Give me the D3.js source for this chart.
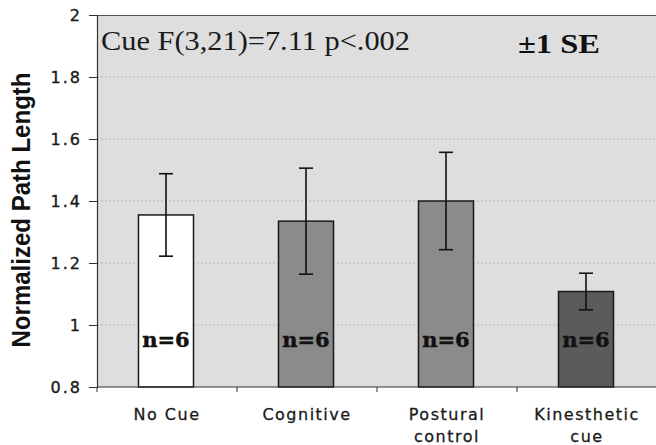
<!DOCTYPE html>
<html>
<head>
<meta charset="utf-8">
<script src="https://cdn.jsdelivr.net/npm/d3@7"></script>
<style>
  body { margin: 0; background: #fff; }
  svg { display: block; }
</style>
</head>
<body>
<svg id="chart" width="656" height="445"></svg>
<script>
// data
var categories = [["No Cue"], ["Cognitive"], ["Postural", "control"], ["Kinesthetic", "cue"]];
var means = [1.355, 1.335, 1.400, 1.108];
var se = [0.133, 0.171, 0.157, 0.059];
var nLabels = ["n=6", "n=6", "n=6", "n=6"];
var barFills = ["#ffffff", "#8b8b8b", "#8b8b8b", "#5b5b5b"];
var yTicks = [0.8, 1, 1.2, 1.4, 1.6, 1.8, 2];
var statText = "Cue F(3,21)=7.11 p<.002";
var seText = "\u00b11 SE";

var svg = d3.select("#chart");
// plot box (note: "top" is taken by window.top, so use pL/pT/...)
var pL = 97, pT = 15, pR = 657, pB = 387;

var x = d3.scaleBand()
    .domain(d3.range(categories.length))
    .range([pL, pR])
    .paddingInner(0).paddingOuter(0);

var y = d3.scaleLinear()
    .domain([0.8, 2])
    .range([pB, pT]);

var barW = 55;

// plot background
svg.append("rect")
    .attr("x", pL).attr("y", pT)
    .attr("width", pR - pL).attr("height", pB - pT)
    .attr("fill", "#dedede");

// dotted grid
svg.append("g").selectAll("line")
    .data(yTicks.filter(function(d) { return d > 0.8 && d < 2; }))
  .join("line")
    .attr("x1", pL).attr("x2", pR)
    .attr("y1", function(d) { return y(d); })
    .attr("y2", function(d) { return y(d); })
    .attr("stroke", "#b4b4b4")
    .attr("stroke-width", 1)
    .attr("stroke-dasharray", "2,2");

// top frame line
svg.append("line")
    .attr("x1", pL).attr("x2", pR)
    .attr("y1", pT + 0.5).attr("y2", pT + 0.5)
    .attr("stroke", "#555").attr("stroke-width", 1.2);

// bars
svg.append("g").selectAll("rect")
    .data(means)
  .join("rect")
    .attr("x", function(d, i) { return x(i) + x.bandwidth() / 2 - barW / 2 - 1; })
    .attr("y", function(d) { return y(d); })
    .attr("width", barW)
    .attr("height", function(d) { return y(0.8) - y(d); })
    .attr("fill", function(d, i) { return barFills[i]; })
    .attr("stroke", "#1a1a1a")
    .attr("stroke-width", 1.5);

// error bars
var eb = svg.append("g").attr("stroke", "#111").attr("stroke-width", 1.6);
means.forEach(function(m, i) {
    var cx = x(i) + x.bandwidth() / 2 - 1;
    var hi = y(m + se[i]), lo = y(m - se[i]);
    eb.append("line").attr("x1", cx).attr("x2", cx).attr("y1", hi).attr("y2", lo);
    eb.append("line").attr("x1", cx - 7).attr("x2", cx + 7).attr("y1", hi).attr("y2", hi);
    eb.append("line").attr("x1", cx - 7).attr("x2", cx + 7).attr("y1", lo).attr("y2", lo);
});

// n labels
svg.append("g").selectAll("text")
    .data(nLabels)
  .join("text")
    .attr("x", function(d, i) { return x(i) + x.bandwidth() / 2 - 1; })
    .attr("y", 347)
    .attr("text-anchor", "middle")
    .attr("font-family", "'DejaVu Serif', serif")
    .attr("font-weight", "bold")
    .attr("font-size", 21)
    .attr("fill", "#111")
    .attr("stroke", "#111").attr("stroke-width", 0.4)
    .text(function(d) { return d; });

// y axis
var yAxis = svg.append("g")
    .attr("transform", "translate(" + pL + ",0)")
    .call(d3.axisLeft(y).tickValues(yTicks).tickFormat(d3.format("~g")).tickSize(8).tickPadding(7));
yAxis.select(".domain").attr("stroke", "#333").attr("stroke-width", 1.2);
yAxis.selectAll(".tick line").attr("stroke", "#333");
yAxis.selectAll("text")
    .attr("font-family", "'DejaVu Sans', sans-serif")
    .attr("font-size", 16)
    .attr("letter-spacing", "2px")
    .attr("fill", "#1a1a1a")
    .attr("stroke", "#1a1a1a").attr("stroke-width", 0.35);

// x axis line and ticks between categories
var xg = svg.append("g");
xg.append("line")
    .attr("x1", pL).attr("x2", pR)
    .attr("y1", pB).attr("y2", pB)
    .attr("stroke", "#333").attr("stroke-width", 1.2);
xg.selectAll("line.tk")
    .data(d3.range(categories.length))
  .join("line")
    .attr("class", "tk")
    .attr("x1", function(d) { return x(d); })
    .attr("x2", function(d) { return x(d); })
    .attr("y1", pB).attr("y2", pB + 5)
    .attr("stroke", "#333");

var xl = xg.selectAll("text")
    .data(categories)
  .join("text")
    .attr("text-anchor", "middle")
    .attr("font-family", "'DejaVu Sans', sans-serif")
    .attr("font-size", 16)
    .attr("letter-spacing", "1.5px")
    .attr("fill", "#1a1a1a")
    .attr("stroke", "#1a1a1a").attr("stroke-width", 0.3);
xl.each(function(lines, i) {
    var t = d3.select(this);
    lines.forEach(function(s, k) {
        t.append("tspan")
            .attr("x", x(i) + x.bandwidth() / 2)
            .attr("y", 420 + k * 22)
            .text(s);
    });
});

// y title
svg.append("text")
    .attr("transform", "translate(30,210) rotate(-90)")
    .attr("text-anchor", "middle")
    .attr("font-family", "'Liberation Sans', Arial, sans-serif")
    .attr("font-weight", "bold")
    .attr("font-size", 25)
    .attr("textLength", 275)
    .attr("lengthAdjust", "spacingAndGlyphs")
    .attr("fill", "#111")
    .text("Normalized Path Length");

// annotations
svg.append("text")
    .attr("x", 101).attr("y", 50)
    .attr("font-family", "'Liberation Serif', serif")
    .attr("font-size", 28)
    .attr("textLength", 309)
    .attr("lengthAdjust", "spacingAndGlyphs")
    .attr("fill", "#1a1a1a")
    .text(statText);

svg.append("text")
    .attr("x", 518).attr("y", 53)
    .attr("font-family", "'Liberation Serif', serif")
    .attr("font-weight", "bold")
    .attr("font-size", 27)
    .attr("textLength", 82)
    .attr("lengthAdjust", "spacingAndGlyphs")
    .attr("fill", "#111")
    .text(seText);
</script>
</body>
</html>
